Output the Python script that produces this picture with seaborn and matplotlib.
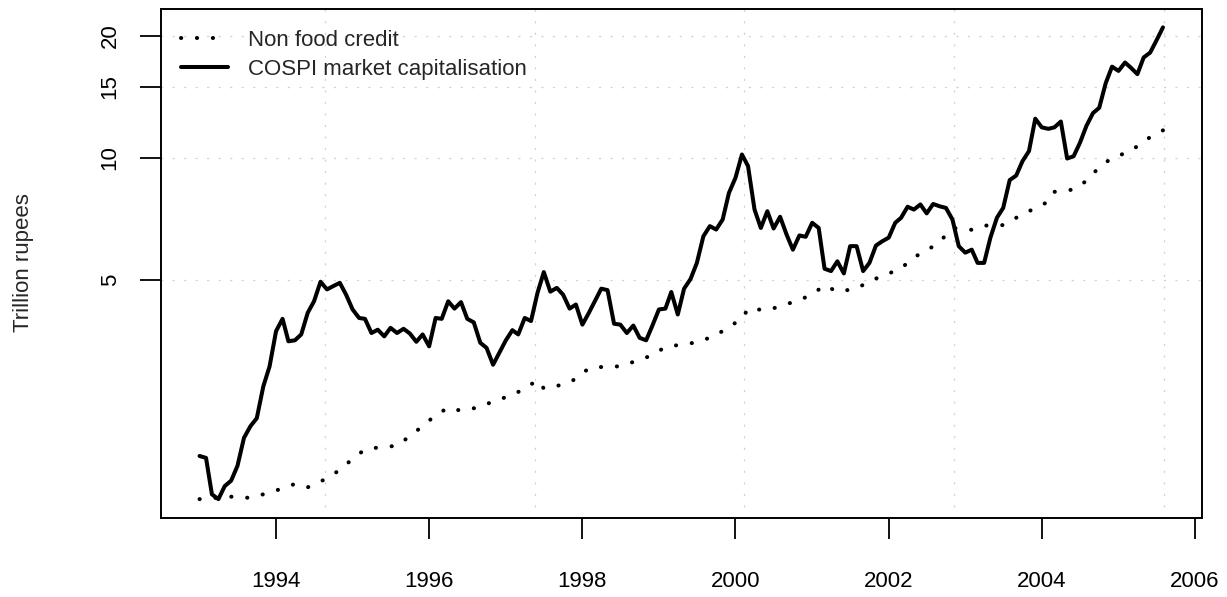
import numpy as np
import pandas as pd
import matplotlib
matplotlib.use("Agg")
import matplotlib.pyplot as plt
import matplotlib.dates as mdates
import seaborn as sns

# Monthly COSPI market capitalisation, trillion rupees, Jan 1993 - Aug 2005
cospi_start = "1993-01-01"
cospi_values = [
    1.84, 1.82, 1.48, 1.44, 1.55, 1.60, 1.74, 2.04, 2.18, 2.28, 2.73, 3.06,
    3.74, 4.01, 3.53, 3.55, 3.67, 4.15, 4.43, 4.95, 4.74, 4.83, 4.92, 4.60,
    4.23, 4.03, 4.01, 3.70, 3.77, 3.63, 3.81, 3.70, 3.79, 3.69, 3.52, 3.67,
    3.43, 4.03, 4.01, 4.43, 4.25, 4.41, 4.01, 3.93, 3.50, 3.40, 3.09, 3.31,
    3.55, 3.76, 3.67, 4.03, 3.96, 4.65, 5.23, 4.68, 4.78, 4.60, 4.25, 4.35,
    3.88, 4.15, 4.43, 4.76, 4.72, 3.90, 3.88, 3.70, 3.86, 3.60, 3.55, 3.86,
    4.23, 4.25, 4.67, 4.11, 4.76, 5.03, 5.51, 6.41, 6.79, 6.66, 7.05, 8.20,
    8.93, 10.2, 9.55, 7.46, 6.72, 7.39, 6.70, 7.16, 6.47, 5.94, 6.44, 6.39,
    6.92, 6.72, 5.33, 5.26, 5.56, 5.19, 6.06, 6.06, 5.26, 5.51, 6.08, 6.23,
    6.36, 6.92, 7.12, 7.58, 7.46, 7.68, 7.30, 7.70, 7.60, 7.53, 7.05, 6.06,
    5.84, 5.94, 5.51, 5.51, 6.36, 7.12, 7.53, 8.82, 9.05, 9.82, 10.4, 12.5,
    11.9, 11.8, 11.9, 12.3, 9.97, 10.1, 10.9, 12.0, 12.9, 13.3, 15.3, 16.8,
    16.4, 17.2, 16.7, 16.1, 17.7, 18.2, 19.5, 21.0,
]

# Non food credit, trillion rupees
credit_months = [
    "1993-01", "1993-06", "1993-09", "1993-11", "1994-02", "1994-04",
    "1994-06", "1994-09", "1994-11", "1995-01", "1995-03", "1995-05",
    "1995-08", "1995-10", "1995-12", "1996-02", "1996-04", "1996-06",
    "1996-09", "1996-11", "1997-02", "1997-04", "1997-06", "1997-07",
    "1997-10", "1997-12", "1998-02", "1998-05", "1998-07", "1998-10",
    "1998-12", "1999-02", "1999-05", "1999-07", "1999-10", "1999-12",
    "2000-02", "2000-03", "2000-06", "2000-08", "2000-11", "2001-01",
    "2001-03", "2001-05", "2001-08", "2001-10", "2001-12", "2002-03",
    "2002-05", "2002-07", "2002-09", "2002-11", "2003-02", "2003-04",
    "2003-07", "2003-09", "2003-11", "2004-02", "2004-03", "2004-06",
    "2004-08", "2004-10", "2004-12", "2005-03", "2005-05", "2005-07",
    "2005-08",
]
credit_values = [
    1.44, 1.46, 1.45, 1.48, 1.53, 1.57, 1.54, 1.62, 1.70, 1.81, 1.91, 1.93,
    1.95, 2.06, 2.18, 2.32, 2.42, 2.38, 2.43, 2.51, 2.60, 2.70, 2.83, 2.70,
    2.76, 2.85, 3.03, 3.06, 3.06, 3.18, 3.26, 3.42, 3.47, 3.51, 3.65, 3.84,
    4.00, 4.25, 4.21, 4.31, 4.46, 4.61, 4.85, 4.68, 4.76, 4.97, 5.11, 5.34,
    5.69, 5.91, 6.21, 6.72, 6.65, 6.81, 6.83, 7.12, 7.39, 7.80, 8.25, 8.36,
    8.78, 9.49, 10.0, 10.4, 11.0, 11.5, 11.7,
]

series_labels = ["Non food credit", "COSPI market capitalisation"]
year_ticks = [1994, 1996, 1998, 2000, 2002, 2004, 2006]
value_ticks = [5, 10, 15, 20]
grid_days = [9000, 10000, 11000, 12000, 13000]   # days since 1970-01-01

cospi = pd.DataFrame({
    "date": pd.date_range(cospi_start, periods=len(cospi_values), freq="MS"),
    "value": cospi_values,
})
credit = pd.DataFrame({
    "date": pd.to_datetime(credit_months),
    "value": credit_values,
})

sns.set_theme(style="white")
plt.rcParams["font.family"] = ["Liberation Sans", "DejaVu Sans"]
plt.rcParams["font.size"] = 16

W, H = 1227, 597
fig = plt.figure(figsize=(W / 100, H / 100), dpi=100)
left, right, top, bottom = 161, 1201.5, 8.5, 518
ax = fig.add_axes([left / W, 1 - bottom / H, (right - left) / W, (bottom - top) / H])

sns.lineplot(data=credit, x="date", y="value", ax=ax, color="black",
             linewidth=2.9, estimator=None, linestyle=(0, (0.05, 3.9)),
             dash_capstyle="round", zorder=3)
sns.lineplot(data=cospi, x="date", y="value", ax=ax, color="black",
             linewidth=2.9, estimator=None, solid_joinstyle="round",
             solid_capstyle="round", zorder=4)
credit_line, cospi_line = ax.lines[0], ax.lines[1]

ax.set_yscale("log")

# 4% padding around the data range (log scale for y)
all_dates = mdates.date2num(pd.concat([cospi["date"], credit["date"]]))
x0, x1 = all_dates.min(), all_dates.max()
pad = 0.04 * (x1 - x0)
ax.set_xlim(x0 - pad, x1 + pad)
ly = np.log10(np.r_[cospi_values, credit_values])
lpad = 0.04 * (ly.max() - ly.min())
ax.set_ylim(10 ** (ly.min() - lpad), 10 ** (ly.max() + lpad))

# dotted reference grid
for d in grid_days:
    ax.axvline(d, color="#d3d3d3", linewidth=1.0, linestyle=(0, (0.8, 7.5)),
               dash_capstyle="round", zorder=1)
for v in value_ticks:
    ax.axhline(v, color="#d3d3d3", linewidth=1.0, linestyle=(0, (0.8, 7.5)),
               dash_capstyle="round", zorder=1)

ax.set_xticks(mdates.date2num([pd.Timestamp(f"{y}-01-01") for y in year_ticks]))
ax.set_xticklabels([str(y) for y in year_ticks])
ax.set_yticks(value_ticks)
ax.set_yticklabels([str(v) for v in value_ticks], rotation=90, va="center")
ax.yaxis.set_minor_locator(matplotlib.ticker.NullLocator())
ax.xaxis.set_minor_locator(matplotlib.ticker.NullLocator())

ax.tick_params(axis="x", direction="out", length=15, width=1.3, pad=23,
               labelsize=16, colors="black", bottom=True)
ax.tick_params(axis="y", direction="out", length=15, width=1.3, pad=14,
               labelsize=16, colors="black", left=True)
for s in ax.spines.values():
    s.set_visible(True)
    s.set_color("black")
    s.set_linewidth(1.4)

ax.set_xlabel("")
ax.set_ylabel("")
fig.text(24 / W, 1 - 263 / H, "Trillion rupees", rotation=90,
         ha="center", va="center", fontsize=16)

ax.legend([credit_line, cospi_line], series_labels, loc="upper left",
          bbox_to_anchor=(20 / (right - left), 1 - 21.5 / (bottom - top)),
          frameon=False, fontsize=16, borderpad=0, borderaxespad=0,
          handlelength=2.1, handletextpad=0.9, labelspacing=0.37)

fig.savefig("out.png", dpi=100, facecolor="white")
